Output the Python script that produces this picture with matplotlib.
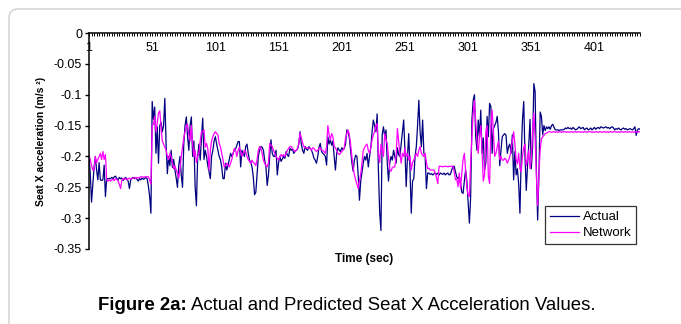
import matplotlib
matplotlib.use("Agg")
import matplotlib.pyplot as plt
import matplotlib.patches as patches
from matplotlib.transforms import IdentityTransform
import numpy as np

plt.rcParams['font.family'] = ['Liberation Sans', 'DejaVu Sans']

# Seat X acceleration (m/s^2), one value per second
actual = [
    -0.200, -0.228, -0.274, -0.245, -0.218, -0.200, -0.222, -0.238, -0.210, -0.238,
    -0.239, -0.238, -0.214, -0.265, -0.236, -0.236, -0.236, -0.236, -0.234, -0.236,
    -0.233, -0.232, -0.236, -0.238, -0.234, -0.236, -0.235, -0.239, -0.236, -0.234,
    -0.237, -0.240, -0.252, -0.238, -0.235, -0.234, -0.236, -0.235, -0.237, -0.240,
    -0.236, -0.238, -0.235, -0.237, -0.236, -0.234, -0.236, -0.248, -0.265, -0.292,
    -0.111, -0.140, -0.120, -0.195, -0.152, -0.211, -0.150, -0.145, -0.160, -0.150,
    -0.106, -0.180, -0.228, -0.200, -0.215, -0.190, -0.218, -0.205, -0.222, -0.235,
    -0.250, -0.215, -0.200, -0.230, -0.250, -0.180, -0.150, -0.136, -0.168, -0.190,
    -0.150, -0.136, -0.200, -0.175, -0.250, -0.280, -0.200, -0.180, -0.206, -0.170,
    -0.138, -0.205, -0.190, -0.200, -0.215, -0.225, -0.236, -0.200, -0.190, -0.175,
    -0.168, -0.180, -0.190, -0.200, -0.205, -0.217, -0.236, -0.236, -0.211, -0.222,
    -0.215, -0.205, -0.195, -0.200, -0.195, -0.190, -0.188, -0.182, -0.176, -0.176,
    -0.217, -0.190, -0.195, -0.200, -0.184, -0.180, -0.195, -0.206, -0.210, -0.217,
    -0.233, -0.262, -0.258, -0.228, -0.200, -0.190, -0.184, -0.185, -0.190, -0.206,
    -0.217, -0.247, -0.230, -0.200, -0.173, -0.195, -0.200, -0.200, -0.190, -0.230,
    -0.210, -0.200, -0.208, -0.204, -0.200, -0.203, -0.192, -0.198, -0.200, -0.187,
    -0.190, -0.188, -0.195, -0.192, -0.190, -0.188, -0.180, -0.160, -0.180, -0.190,
    -0.195, -0.184, -0.188, -0.190, -0.184, -0.187, -0.190, -0.195, -0.203, -0.206,
    -0.211, -0.200, -0.185, -0.179, -0.192, -0.195, -0.197, -0.200, -0.214, -0.168,
    -0.180, -0.173, -0.182, -0.175, -0.200, -0.222, -0.195, -0.186, -0.190, -0.192,
    -0.186, -0.189, -0.187, -0.180, -0.157, -0.160, -0.170, -0.190, -0.210, -0.224,
    -0.206, -0.198, -0.200, -0.230, -0.271, -0.240, -0.225, -0.211, -0.200, -0.206,
    -0.195, -0.217, -0.200, -0.185, -0.160, -0.141, -0.150, -0.160, -0.131, -0.222,
    -0.290, -0.320, -0.165, -0.152, -0.168, -0.157, -0.210, -0.240, -0.211, -0.200,
    -0.206, -0.190, -0.200, -0.211, -0.186, -0.197, -0.200, -0.180, -0.160, -0.141,
    -0.190, -0.249, -0.200, -0.163, -0.222, -0.292, -0.240, -0.236, -0.200, -0.184,
    -0.150, -0.109, -0.160, -0.184, -0.141, -0.195, -0.200, -0.252, -0.227, -0.227,
    -0.229, -0.228, -0.230, -0.228, -0.227, -0.229, -0.227, -0.230, -0.227, -0.228,
    -0.229, -0.227, -0.230, -0.228, -0.227, -0.230, -0.229, -0.222, -0.216, -0.216,
    -0.225, -0.233, -0.236, -0.233, -0.244, -0.258, -0.260, -0.240, -0.222, -0.240,
    -0.275, -0.308, -0.265, -0.141, -0.109, -0.100, -0.168, -0.190, -0.141, -0.168,
    -0.125, -0.195, -0.170, -0.222, -0.210, -0.135, -0.168, -0.114, -0.119, -0.195,
    -0.155, -0.150, -0.145, -0.135, -0.160, -0.215, -0.190, -0.168, -0.165, -0.163,
    -0.166, -0.195, -0.184, -0.180, -0.195, -0.165, -0.238, -0.192, -0.230, -0.220,
    -0.245, -0.292, -0.200, -0.141, -0.111, -0.200, -0.255, -0.215, -0.180, -0.140,
    -0.220, -0.185, -0.082, -0.095, -0.220, -0.303, -0.230, -0.128, -0.135, -0.165,
    -0.150, -0.158, -0.152, -0.155, -0.152, -0.156, -0.150, -0.148, -0.153, -0.157,
    -0.157, -0.157, -0.158, -0.157, -0.157, -0.157, -0.156, -0.154, -0.155, -0.153,
    -0.155, -0.154, -0.156, -0.153, -0.155, -0.157, -0.156, -0.154, -0.152, -0.155,
    -0.154, -0.153, -0.157, -0.155, -0.154, -0.157, -0.156, -0.154, -0.157, -0.155,
    -0.153, -0.156, -0.154, -0.153, -0.155, -0.152, -0.153, -0.154, -0.153, -0.152,
    -0.154, -0.153, -0.155, -0.153, -0.152, -0.154, -0.157, -0.155, -0.156, -0.154,
    -0.156, -0.157, -0.155, -0.154, -0.156, -0.155, -0.157, -0.156, -0.155, -0.156,
    -0.157, -0.155, -0.152, -0.166, -0.157, -0.155, -0.156,
]

network = [
    -0.199, -0.205, -0.215, -0.222, -0.222, -0.200, -0.210, -0.205, -0.200, -0.195,
    -0.205, -0.192, -0.205, -0.197, -0.238, -0.240, -0.238, -0.240, -0.238, -0.237,
    -0.239, -0.236, -0.237, -0.240, -0.245, -0.252, -0.238, -0.236, -0.237, -0.236,
    -0.238, -0.236, -0.235, -0.237, -0.236, -0.235, -0.234, -0.236, -0.234, -0.235,
    -0.234, -0.233, -0.233, -0.234, -0.233, -0.233, -0.233, -0.233, -0.238, -0.245,
    -0.150, -0.148, -0.135, -0.160, -0.145, -0.130, -0.126, -0.150, -0.175, -0.180,
    -0.185, -0.190, -0.200, -0.205, -0.195, -0.200, -0.210, -0.220, -0.215, -0.222,
    -0.228, -0.235, -0.220, -0.200, -0.185, -0.170, -0.160, -0.150, -0.148, -0.165,
    -0.175, -0.150, -0.180, -0.200, -0.190, -0.210, -0.200, -0.195, -0.175, -0.160,
    -0.160, -0.157, -0.185, -0.179, -0.187, -0.222, -0.190, -0.175, -0.168, -0.163,
    -0.160, -0.163, -0.165, -0.179, -0.184, -0.195, -0.205, -0.217, -0.215, -0.211,
    -0.214, -0.217, -0.211, -0.205, -0.195, -0.187, -0.190, -0.200, -0.190, -0.185,
    -0.192, -0.200, -0.195, -0.190, -0.192, -0.200, -0.205, -0.208, -0.211, -0.206,
    -0.210, -0.211, -0.215, -0.205, -0.190, -0.184, -0.187, -0.195, -0.206, -0.211,
    -0.215, -0.217, -0.210, -0.179, -0.182, -0.184, -0.190, -0.195, -0.200, -0.203,
    -0.206, -0.200, -0.197, -0.200, -0.197, -0.200, -0.195, -0.190, -0.187, -0.184,
    -0.184, -0.187, -0.190, -0.192, -0.190, -0.187, -0.180, -0.162, -0.170, -0.178,
    -0.184, -0.186, -0.186, -0.186, -0.186, -0.187, -0.190, -0.186, -0.187, -0.190,
    -0.192, -0.190, -0.187, -0.186, -0.190, -0.190, -0.192, -0.195, -0.184, -0.150,
    -0.165, -0.173, -0.163, -0.168, -0.184, -0.186, -0.190, -0.195, -0.197, -0.195,
    -0.192, -0.190, -0.186, -0.170, -0.163, -0.157, -0.165, -0.180, -0.200, -0.217,
    -0.230, -0.238, -0.245, -0.252, -0.240, -0.228, -0.211, -0.190, -0.186, -0.182,
    -0.180, -0.190, -0.195, -0.186, -0.173, -0.165, -0.160, -0.150, -0.147, -0.195,
    -0.210, -0.180, -0.190, -0.200, -0.163, -0.173, -0.179, -0.200, -0.222, -0.224,
    -0.218, -0.217, -0.217, -0.200, -0.155, -0.175, -0.195, -0.211, -0.195, -0.200,
    -0.186, -0.200, -0.195, -0.206, -0.200, -0.222, -0.210, -0.206, -0.200, -0.195,
    -0.200, -0.190, -0.184, -0.195, -0.198, -0.200, -0.195, -0.210, -0.220, -0.219,
    -0.222, -0.222, -0.222, -0.222, -0.227, -0.235, -0.244, -0.216, -0.216, -0.216,
    -0.217, -0.216, -0.216, -0.216, -0.217, -0.216, -0.216, -0.216, -0.216, -0.225,
    -0.238, -0.236, -0.249, -0.227, -0.252, -0.227, -0.205, -0.195, -0.222, -0.250,
    -0.262, -0.265, -0.210, -0.168, -0.130, -0.109, -0.141, -0.175, -0.195, -0.168,
    -0.150, -0.190, -0.240, -0.230, -0.160, -0.150, -0.233, -0.244, -0.150, -0.125,
    -0.160, -0.200, -0.195, -0.185, -0.175, -0.205, -0.200, -0.206, -0.206, -0.203,
    -0.205, -0.211, -0.206, -0.200, -0.190, -0.175, -0.160, -0.180, -0.205, -0.212,
    -0.195, -0.220, -0.225, -0.200, -0.185, -0.180, -0.215, -0.205, -0.190, -0.220,
    -0.205, -0.160, -0.130, -0.170, -0.230, -0.280, -0.230, -0.190, -0.172, -0.168,
    -0.166, -0.163, -0.162, -0.161, -0.160, -0.160, -0.161, -0.160, -0.160, -0.161,
    -0.160, -0.161, -0.160, -0.160, -0.161, -0.160, -0.160, -0.160, -0.161, -0.160,
    -0.161, -0.160, -0.160, -0.161, -0.160, -0.160, -0.161, -0.160, -0.160, -0.161,
    -0.160, -0.161, -0.160, -0.160, -0.161, -0.160, -0.160, -0.160, -0.161, -0.160,
    -0.161, -0.160, -0.160, -0.161, -0.160, -0.160, -0.161, -0.160, -0.160, -0.161,
    -0.160, -0.161, -0.160, -0.160, -0.161, -0.160, -0.160, -0.160, -0.161, -0.160,
    -0.161, -0.160, -0.160, -0.161, -0.160, -0.160, -0.161, -0.160, -0.160, -0.161,
    -0.160, -0.161, -0.160, -0.160, -0.161, -0.160, -0.160,
]

x_ticks = [1, 51, 101, 151, 201, 251, 301, 351, 401]
y_ticks = [0, -0.05, -0.1, -0.15, -0.2, -0.25, -0.3, -0.35]
y_labels = ["0", "-0.05", "-0.1", "-0.15", "-0.2", "-0.25", "-0.3", "-0.35"]


def main():
    fig = plt.figure(figsize=(6.81, 3.24), dpi=100)

    # grauer Rahmen mit runder Ecke oben links
    frame = patches.FancyBboxPatch((9, -60), 760, 375,
                                   boxstyle="round,pad=0,rounding_size=9",
                                   transform=IdentityTransform(),
                                   facecolor="none", edgecolor="#cfcfcf", lw=1.0)
    fig.patches.append(frame)

    ax = fig.add_axes([89 / 681, 1 - 249 / 324, 551 / 681, 216 / 324])

    t_a = np.arange(1, len(actual) + 1)
    t_n = np.arange(1, len(network) + 1)
    ax.plot(t_a, actual, color="#000080", lw=0.9, label="Actual")
    ax.plot(t_n, network, color="#ff00ff", lw=0.9, label="Network")

    ax.set_xlim(1, 437)
    ax.set_ylim(-0.35, 0)

    # Kategorie-Achse liegt bei y = 0 (oben)
    ax.spines["bottom"].set_position(("data", 0))
    ax.spines["top"].set_visible(False)
    ax.spines["right"].set_visible(False)
    for s in ("left", "bottom"):
        ax.spines[s].set_linewidth(1.1)
        ax.spines[s].set_color("black")

    ax.set_xticks(x_ticks)
    ax.set_xticklabels([str(v) for v in x_ticks])
    ax.set_xticks(np.arange(1, 438, 2), minor=True)
    ax.tick_params(axis="x", which="both", direction="out", length=2.4,
                   width=0.7, labelsize=9, pad=4, colors="black")
    ax.set_yticks(y_ticks)
    ax.set_yticklabels(y_labels)
    ax.tick_params(axis="y", direction="out", length=3, width=1.0,
                   labelsize=9, pad=2)

    ax.set_ylabel("Seat X acceleration (m/s ²)", fontsize=7.5, fontweight="bold")
    ax.yaxis.set_label_coords(-0.078, 0.5)
    fig.text(364 / 681, 1 - 259 / 324, "Time (sec)", fontsize=8.5,
             fontweight="bold", ha="center", va="center")

    leg = ax.legend(loc="lower right", bbox_to_anchor=(636 / 681, 1 - 244 / 324),
                    bbox_transform=fig.transFigure, borderaxespad=0,
                    fontsize=9.5, frameon=True, fancybox=False,
                    handlelength=2.2, handletextpad=0.3, labelspacing=0.3,
                    borderpad=0.35)
    leg.get_frame().set_edgecolor("black")
    leg.get_frame().set_linewidth(0.9)

    # Bildunterschrift: fetter Teil + normaler Teil
    renderer = fig.canvas.get_renderer()
    t1 = fig.text(98 / 681, 1 - 305 / 324, "Figure 2a:", fontsize=13.4,
                  fontweight="bold", ha="left", va="center")
    bb = t1.get_window_extent(renderer)
    fig.text((bb.x1 + 4) / 681, 1 - 305 / 324,
             "Actual and Predicted Seat X Acceleration Values.", fontsize=13.4,
             ha="left", va="center")

    fig.savefig("out.png", dpi=100)


if __name__ == "__main__":
    main()
